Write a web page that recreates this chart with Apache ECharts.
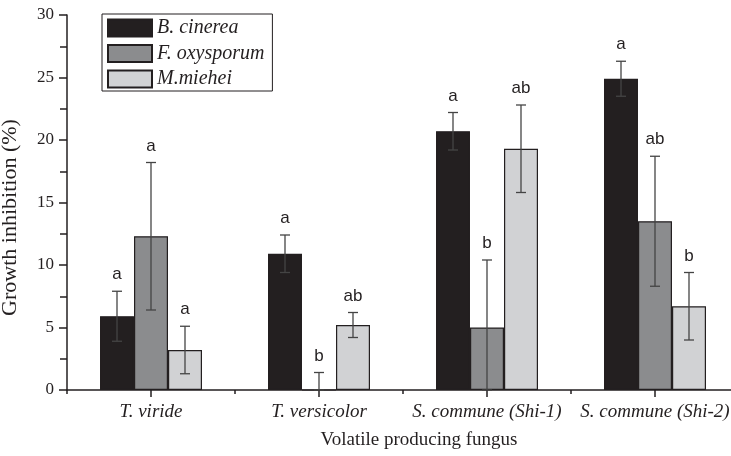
<!DOCTYPE html>
<html><head><meta charset="utf-8">
<script src="https://cdn.jsdelivr.net/npm/echarts@6/dist/echarts.min.js"></script>
<style>html,body{margin:0;padding:0;background:#fff}#c{width:731px;height:456px}</style>
</head><body><div id="c"></div>
<script>
const categories = ['T. viride', 'T. versicolor', 'S. commune (Shi-1)', 'S. commune (Shi-2)'];
const seriesNames = ['B. cinerea', 'F. oxysporum', 'M.miehei'];
const bCinerea = [5.9, 10.9, 20.7, 24.9];
const bCinereaErr = [2.0, 1.5, 1.5, 1.4];
const fOxysporum = [12.3, 0, 5.0, 13.5];
const fOxysporumLow = [6.4, 0, 0, 8.3];
const fOxysporumHigh = [18.2, 1.4, 10.4, 18.7];
const mMiehei = [3.2, 5.2, 19.3, 6.7];
const mMieheiLow = [1.3, 4.2, 15.8, 4.0];
const mMieheiHigh = [5.1, 6.2, 22.8, 9.4];
const letters = [
  ['a', 'a', 'a', 'a'],
  ['a', 'b', 'b', 'ab'],
  ['a', 'ab', 'ab', 'b']
];
const yTicks = [0, 5, 10, 15, 20, 25, 30];

const values = [bCinerea, fOxysporum, mMiehei];
const lows = [bCinerea.map((v, i) => v - bCinereaErr[i]), fOxysporumLow, mMieheiLow];
const highs = [bCinerea.map((v, i) => v + bCinereaErr[i]), fOxysporumHigh, mMieheiHigh];
const colors = ['#231f20', '#8b8c8e', '#d1d2d4'];
const BW = 34;

const errData = [];
for (let s = 0; s < 3; s++) for (let i = 0; i < categories.length; i++)
  errData.push([i, lows[s][i], highs[s][i], s, letters[s][i]]);

const chart = echarts.init(document.getElementById('c'));
chart.setOption({
  animation: false,
  legend: {
    left: 102, top: 14, orient: 'vertical',
    data: seriesNames,
    icon: 'rect',
    itemWidth: 44, itemHeight: 17, itemGap: 5.5,
    padding: [4, 8, 2, 5],
    borderColor: '#231f20', borderWidth: 1,
    textStyle: { fontFamily: 'Liberation Serif', fontStyle: 'italic', fontSize: 20, lineHeight: 17, color: '#231f20' }
  },
  grid: { left: 67, top: 15, bottom: 66, right: -8, outerBoundsMode: 'none', containLabel: false },
  xAxis: [{
    type: 'category', data: categories,
    axisLine: { lineStyle: { color: '#231f20', width: 1.5 } },
    axisTick: { show: true, alignWithLabel: false, length: 4, lineStyle: { color: '#231f20', width: 1.5 } },
    axisLabel: { interval: 0, hideOverlap: false, fontFamily: 'Liberation Serif', fontStyle: 'italic', fontSize: 19, color: '#231f20', margin: 12 },
    name: 'Volatile producing fungus', nameLocation: 'middle', nameGap: 41,
    nameTextStyle: { fontFamily: 'Liberation Serif', fontSize: 19, color: '#231f20', padding: [0, 0, 0, 32] }
  }, {
    type: 'category', data: categories, position: 'bottom',
    axisLine: { show: false },
    axisTick: { show: true, alignWithLabel: true, interval: 0, length: 7, lineStyle: { color: '#231f20', width: 1.5 } },
    axisLabel: { show: false }
  }],
  yAxis: {
    type: 'value', min: 0, max: 30, interval: 5,
    axisLine: { show: true, lineStyle: { color: '#231f20', width: 1.5 } },
    axisTick: { show: true, length: 8, lineStyle: { color: '#231f20', width: 1.5 } },
    minorTick: { show: true, splitNumber: 2, length: 7, lineStyle: { color: '#231f20', width: 1.5 } },
    splitLine: { show: false },
    axisLabel: { fontFamily: 'Liberation Serif', fontSize: 17, color: '#231f20', margin: 13,
      formatter: v => yTicks.includes(v) ? String(v) : '' },
    name: 'Growth inhibition (%)', nameLocation: 'middle', nameGap: 46,
    nameTextStyle: { fontFamily: 'Liberation Serif', fontSize: 22, color: '#231f20', padding: [0, 30, 0, 0] }
  },
  series: [
    ...seriesNames.map((n, s) => ({
      name: n, type: 'bar', data: values[s], barWidth: BW, barGap: '0%',
      itemStyle: { color: colors[s], borderColor: '#231f20', borderWidth: 1.2 },
      emphasis: { disabled: true }
    })),
    {
      type: 'custom', data: errData, z: 10, silent: true,
      renderItem: function (params, api) {
        const i = api.value(0), s = api.value(3);
        const top = api.coord([i, api.value(2)]);
        const bot = api.coord([i, api.value(1)]);
        const x = top[0] + (s - 1) * BW;
        const c = '#444';
        return {
          type: 'group', children: [
            { type: 'line', shape: { x1: x, y1: top[1], x2: x, y2: bot[1] }, style: { stroke: c, lineWidth: 1.3 } },
            { type: 'line', shape: { x1: x - 5, y1: top[1], x2: x + 5, y2: top[1] }, style: { stroke: c, lineWidth: 1.3 } },
            { type: 'line', shape: { x1: x - 5, y1: bot[1], x2: x + 5, y2: bot[1] }, style: { stroke: c, lineWidth: 1.3 } },
            { type: 'text', x: x, y: top[1] - 8, style: { text: api.value(4), fill: '#231f20', font: '17px "Liberation Sans"', align: 'center', verticalAlign: 'bottom' } }
          ]
        };
      }
    }
  ]
});
</script></body></html>
